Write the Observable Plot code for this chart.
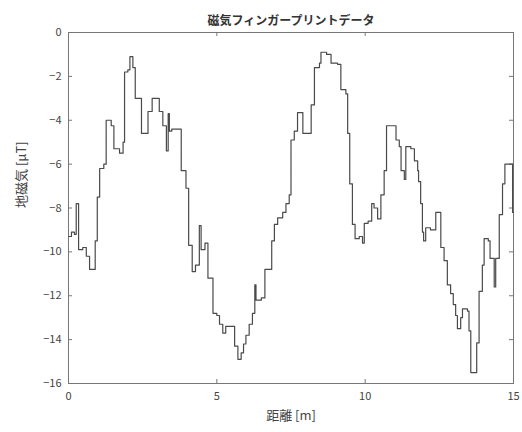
<!DOCTYPE html>
<html><head><meta charset="utf-8">
<script src="https://cdn.jsdelivr.net/npm/d3@7"></script>
<script src="https://cdn.jsdelivr.net/npm/@observablehq/plot@0.6"></script>
<style>body{margin:0;background:#fff}</style>
</head><body><div id="chart"></div>
<script>
const distance = [0, 0.1, 0.2, 0.26, 0.34, 0.48, 0.60, 0.71, 0.90, 0.97, 1.05, 1.19, 1.27, 1.44, 1.53, 1.72, 1.84, 1.89, 2.0, 2.07, 2.17, 2.25, 2.46, 2.68, 2.82,
  3.06, 3.18, 3.30, 3.36, 3.40, 3.48, 3.80, 3.96, 4.05, 4.17, 4.28, 4.41, 4.47, 4.6, 4.70, 4.87, 5.0, 5.09, 5.2, 5.3, 5.6, 5.71, 5.82,
  5.90, 5.98, 6.09, 6.20, 6.28, 6.32, 6.5, 6.62, 6.85, 6.94, 7.05, 7.22, 7.33, 7.44, 7.50, 7.61, 7.72, 7.90, 8.18, 8.29, 8.46, 8.51, 8.7, 8.85,
  9.07, 9.18, 9.35, 9.41, 9.48, 9.57, 9.66, 9.80, 9.91, 9.97, 10.1, 10.22, 10.30, 10.42, 10.53, 10.64, 10.72, 11.04, 11.15, 11.21, 11.32, 11.37, 11.54, 11.66, 11.77, 11.80, 11.87, 11.93, 11.97, 12.04, 12.2, 12.38, 12.55, 12.66, 12.77, 12.88, 12.97, 13.05, 13.11, 13.22, 13.28, 13.45, 13.5, 13.56, 13.76, 13.84, 13.95, 14.01, 14.15, 14.21, 14.35, 14.40, 14.52, 14.63, 14.71, 14.97, 15.0];
const field = [-9.3, -9.1, -9.2, -7.8, -9.9, -9.8, -10.2, -10.8, -9.5, -7.5, -6.2, -6.0, -4.0, -4.25, -5.3, -5.5, -5.0, -1.8, -1.7, -1.1, -1.6, -3.0, -4.6, -3.6, -3.0,
  -3.6, -4.25, -5.4, -3.7, -4.5, -4.4, -6.3, -7.1, -9.7, -10.9, -10.6, -8.8, -9.9, -9.6, -11.2, -12.8, -12.9, -13.3, -13.7, -13.4, -14.3, -14.9, -14.6,
  -14.2, -13.8, -13.3, -12.8, -11.5, -12.2, -12.1, -10.8, -9.5, -8.75, -8.45, -8.2, -7.8, -7.4, -4.9, -4.5, -3.65, -4.6, -3.3, -1.6, -1.4, -0.9, -1.0, -1.4,
  -1.45, -2.6, -2.8, -4.6, -6.9, -8.75, -9.4, -9.3, -9.6, -8.7, -8.6, -7.8, -8.0, -8.5, -7.4, -6.3, -4.25, -4.9, -5.2, -6.3, -6.7, -5.2, -5.3, -5.85, -6.3, -6.8, -7.8, -9.1, -9.5, -8.9, -9.0, -8.2, -9.8, -10.4, -11.5, -11.9, -12.4, -12.9, -13.5, -13.0, -12.6, -12.7, -13.6, -15.5, -14.15, -11.8, -10.6, -9.4, -9.5, -10.3, -11.6, -10.3, -8.3, -6.9, -6.0, -8.2, -8.2];
const xTicks = [0, 5, 10, 15];
const yTicks = [0, -2, -4, -6, -8, -10, -12, -14, -16];
const title = "磁気フィンガープリントデータ";
const xLabel = "距離 [m]";
const yLabel = "地磁気 [μT]";

const data = distance.map((d, i) => ({d, v: field[i]}));
const W = 522, H = 432, mL = 68, mR = 9, mT = 32, mB = 49;
const innerH = H - mT - mB, innerW = W - mL - mR;
const grey = "#777";
const chart = Plot.plot({
  width: W, height: H, marginLeft: mL, marginRight: mR, marginTop: mT, marginBottom: mB,
  style: {fontFamily: "'Noto Sans CJK JP', sans-serif", fontSize: "11px", color: "#444", background: "#fff"},
  x: {domain: [0, 15]},
  y: {domain: [-16, 0]},
  marks: [
    Plot.frame({stroke: grey}),
    Plot.axisX(xTicks, {tickSize: 0, tickPadding: 9, label: null, fontSize: 11}),
    Plot.axisY(yTicks, {tickSize: 0, tickPadding: 7, label: null, fontSize: 11}),
    Plot.text([xLabel], {text: d => d, frameAnchor: "bottom", dy: 36, fontSize: 13, fill: "#444"}),
    Plot.text([yLabel], {text: d => d, frameAnchor: "left", dx: -47, rotate: -90, fontSize: 13, fill: "#444"}),
    Plot.tickX(xTicks, {x: d => d, insetTop: innerH - 4, stroke: grey}),
    Plot.tickX(xTicks, {x: d => d, insetBottom: innerH - 4, stroke: grey}),
    Plot.tickY(yTicks, {y: d => d, insetRight: innerW - 4, stroke: grey}),
    Plot.tickY(yTicks, {y: d => d, insetLeft: innerW - 4, stroke: grey}),
    Plot.line(data, {x: "d", y: "v", curve: "step-after", stroke: "#4a4a4a", strokeWidth: 1.2}),
    Plot.text([title], {text: d => d, frameAnchor: "top", dy: -16, fontSize: 12, fontWeight: "bold", fill: "#333"})
  ]
});
document.getElementById("chart").appendChild(chart);
</script>
</body></html>
